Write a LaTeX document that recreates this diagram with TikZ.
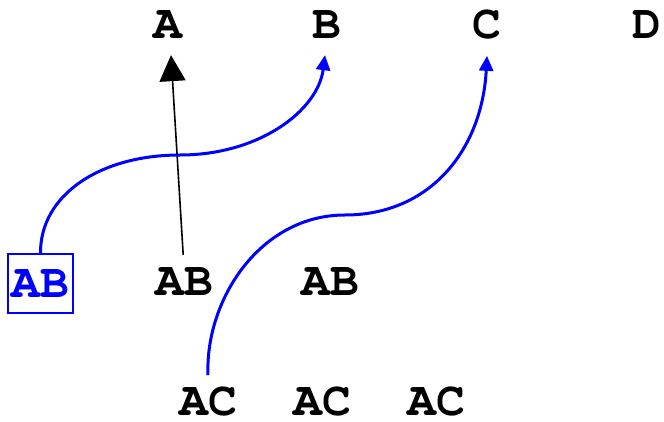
\documentclass[tikz,border=0pt]{standalone}
\usepackage{fontspec}
\setmainfont{texgyrecursor}[Extension=.otf,UprightFont=*-regular,BoldFont=*-bold]
\usetikzlibrary{arrows.meta}
\begin{document}
\begin{tikzpicture}[x=1pt,y=-1pt,
  lbl/.style={inner sep=0pt,font=\fontsize{48}{48}\selectfont\bfseries},
  blueedge/.style={draw=blue,line width=3pt,-{Triangle[length=15pt,width=14pt]}},
  blackedge/.style={draw=black,line width=1.6pt,-{Triangle[length=26pt,width=26pt]}}]
\useasboundingbox (0,0) rectangle (664,422);
\node[lbl] (A) at (168,25) {A};
\node[lbl] (B) at (327,25) {B};
\node[lbl] (C) at (487,25) {C};
\node[lbl] (D) at (647,25) {D};
\node[lbl,draw=blue,line width=1.4pt,text=blue,minimum width=65pt,minimum height=59pt] (ab1) at (40.5,283.5) {AB};
\node[lbl] (ab2) at (184,282) {AB};
\node[lbl] (ab3) at (330,282) {AB};
\node[lbl] (ac1) at (208,402) {AC};
\node[lbl] (ac2) at (322,402) {AC};
\node[lbl] (ac3) at (436,402) {AC};
\coordinate (m1) at (180,155);
\coordinate (m2) at (345,215);
\draw[blackedge,shorten <=13pt,shorten >=16pt] (ab2.north) -- ([xshift=2pt]A.south);
\draw[blueedge] (ab1.north) .. controls (40,195) and (100,155) .. (m1)
  .. controls (260,155) and (318,110) .. ([xshift=-2pt,yshift=-16pt]B.south);
\draw[blueedge] ([yshift=12pt]ac1.north) .. controls (205,300) and (260,215) .. (m2)
  .. controls (430,215) and (482,150) .. ([yshift=-16pt]C.south);
\end{tikzpicture}
\end{document}
